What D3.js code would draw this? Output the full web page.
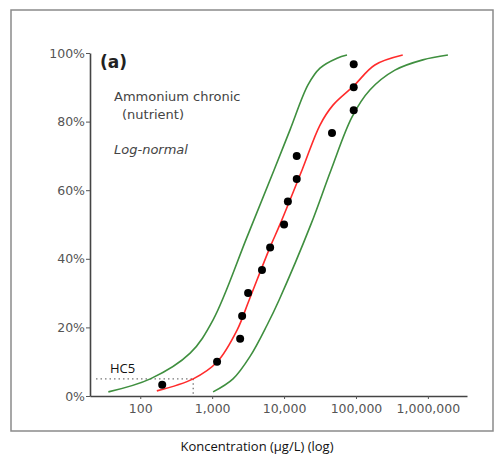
<!DOCTYPE html>
<html>
<head>
<meta charset="utf-8">
<script src="https://cdn.jsdelivr.net/npm/d3@7"></script>
<style>
  body { margin: 0; background: #fff; }
  svg text { font-family: "DejaVu Sans", sans-serif; }
</style>
</head>
<body>
<svg id="chart" width="495" height="455"></svg>
<script>
// observed species sensitivity data (µg/L) and their plotting positions (%)
var pointConc = [202, 1170, 2450, 2610, 3160, 4930, 6400, 10000, 11300, 15000, 15000, 46400, 93000, 93000, 93000];
var pointPct = [3.3, 10, 16.7, 23.3, 30, 36.7, 43.3, 50, 56.7, 63.3, 70, 76.7, 83.3, 90, 96.7];

// fitted log-normal curve (red)
var fitConc = [170, 545, 1170, 2220, 3270, 6390, 8800, 17800, 31600, 47900, 93000, 183000, 447000];
var fitPct = [1.5, 5.0, 9.9, 19.2, 28, 43.4, 50.1, 65.9, 79, 84.8, 90.4, 96.5, 99.4];

// lower / upper confidence curves (green)
var loConc = [36, 138, 494, 1030, 3060, 7260, 12100, 21500, 31600, 54600, 75000];
var loPct = [1.2, 5.0, 12.5, 22.2, 46.4, 65.9, 77.6, 90.7, 95.6, 98.5, 99.4];
var hiConc = [1030, 1950, 3400, 5810, 8530, 23700, 45000, 87900, 156000, 348000, 850000, 1900000];
var hiPct = [1.2, 5.0, 11.7, 20.7, 28, 50.1, 65.9, 81.3, 89.2, 95, 98, 99.4];

var hc5 = 545;
var xTicks = [100, 1000, 10000, 100000, 1000000];
var yTicks = [0, 20, 40, 60, 80, 100];

var svg = d3.select("#chart");

// outer frame
svg.append("rect")
    .attr("x", 11).attr("y", 10)
    .attr("width", 482).attr("height", 421)
    .attr("fill", "none")
    .attr("stroke", "#8a8a8a")
    .attr("stroke-width", 1.5);

var x = d3.scaleLog().domain([20, 3.5e6]).range([90, 467]);
var y = d3.scaleLinear().domain([0, 100]).range([396, 53]);

var yAxis = svg.append("g")
    .attr("transform", "translate(90,0)")
    .call(d3.axisLeft(y).tickValues(yTicks).tickFormat(function(d) { return d + "%"; })
        .tickSize(4).tickSizeOuter(0));
yAxis.selectAll("text").attr("font-size", 12.5).attr("fill", "#555").attr("dx", 2);

var xAxis = svg.append("g")
    .attr("transform", "translate(0,396)")
    .call(d3.axisBottom(x).tickValues(xTicks).tickFormat(d3.format(","))
        .tickSize(3).tickSizeOuter(0));
xAxis.selectAll("text").attr("font-size", 12.5).attr("fill", "#555").attr("dy", "0.9em");

svg.selectAll(".domain").attr("stroke", "#444").attr("stroke-width", 1.6);
svg.selectAll(".tick line").attr("stroke", "#555");

// HC5 guide lines
svg.append("line")
    .attr("x1", 96).attr("x2", x(hc5))
    .attr("y1", y(5)).attr("y2", y(5))
    .attr("stroke", "#777").attr("stroke-width", 1.3)
    .attr("stroke-dasharray", "1.5,3");
svg.append("line")
    .attr("x1", x(hc5)).attr("x2", x(hc5))
    .attr("y1", y(5)).attr("y2", y(0))
    .attr("stroke", "#777").attr("stroke-width", 1.3)
    .attr("stroke-dasharray", "1.5,3");

var line = d3.line()
    .x(function(d) { return x(d[0]); })
    .y(function(d) { return y(d[1]); })
    .curve(d3.curveCatmullRom.alpha(0.5));

function drawCurve(cs, ps, color) {
    svg.append("path")
        .attr("d", line(d3.zip(cs, ps)))
        .attr("fill", "none")
        .attr("stroke", color)
        .attr("stroke-width", 1.6);
}
drawCurve(loConc, loPct, "#3f8f3f");
drawCurve(hiConc, hiPct, "#3f8f3f");
drawCurve(fitConc, fitPct, "#ff2b2b");

svg.selectAll("circle.pt")
    .data(d3.zip(pointConc, pointPct))
    .enter().append("circle")
    .attr("class", "pt")
    .attr("cx", function(d) { return x(d[0]); })
    .attr("cy", function(d) { return y(d[1]); })
    .attr("r", 4)
    .attr("fill", "#000");

// annotations
svg.append("text").attr("x", 100).attr("y", 68)
    .attr("font-size", 17).attr("font-weight", "bold").attr("fill", "#222")
    .text("(a)");
svg.append("text").attr("x", 114).attr("y", 101)
    .attr("font-size", 13).attr("fill", "#444")
    .text("Ammonium chronic");
svg.append("text").attr("x", 122).attr("y", 119)
    .attr("font-size", 13).attr("fill", "#444")
    .text("(nutrient)");
svg.append("text").attr("x", 114).attr("y", 154)
    .attr("font-size", 13).attr("font-style", "italic").attr("fill", "#444")
    .text("Log-normal");

svg.append("text").attr("x", 110).attr("y", 373)
    .attr("font-size", 13).attr("fill", "#111")
    .style("font-family", "'Open Sans', sans-serif")
    .text("HC5");

svg.append("text").attr("x", 257).attr("y", 451)
    .attr("text-anchor", "middle")
    .attr("font-size", 13).attr("fill", "#111")
    .style("font-family", "'Open Sans', sans-serif")
    .text("Koncentration (µg/L) (log)");
</script>
</body>
</html>
